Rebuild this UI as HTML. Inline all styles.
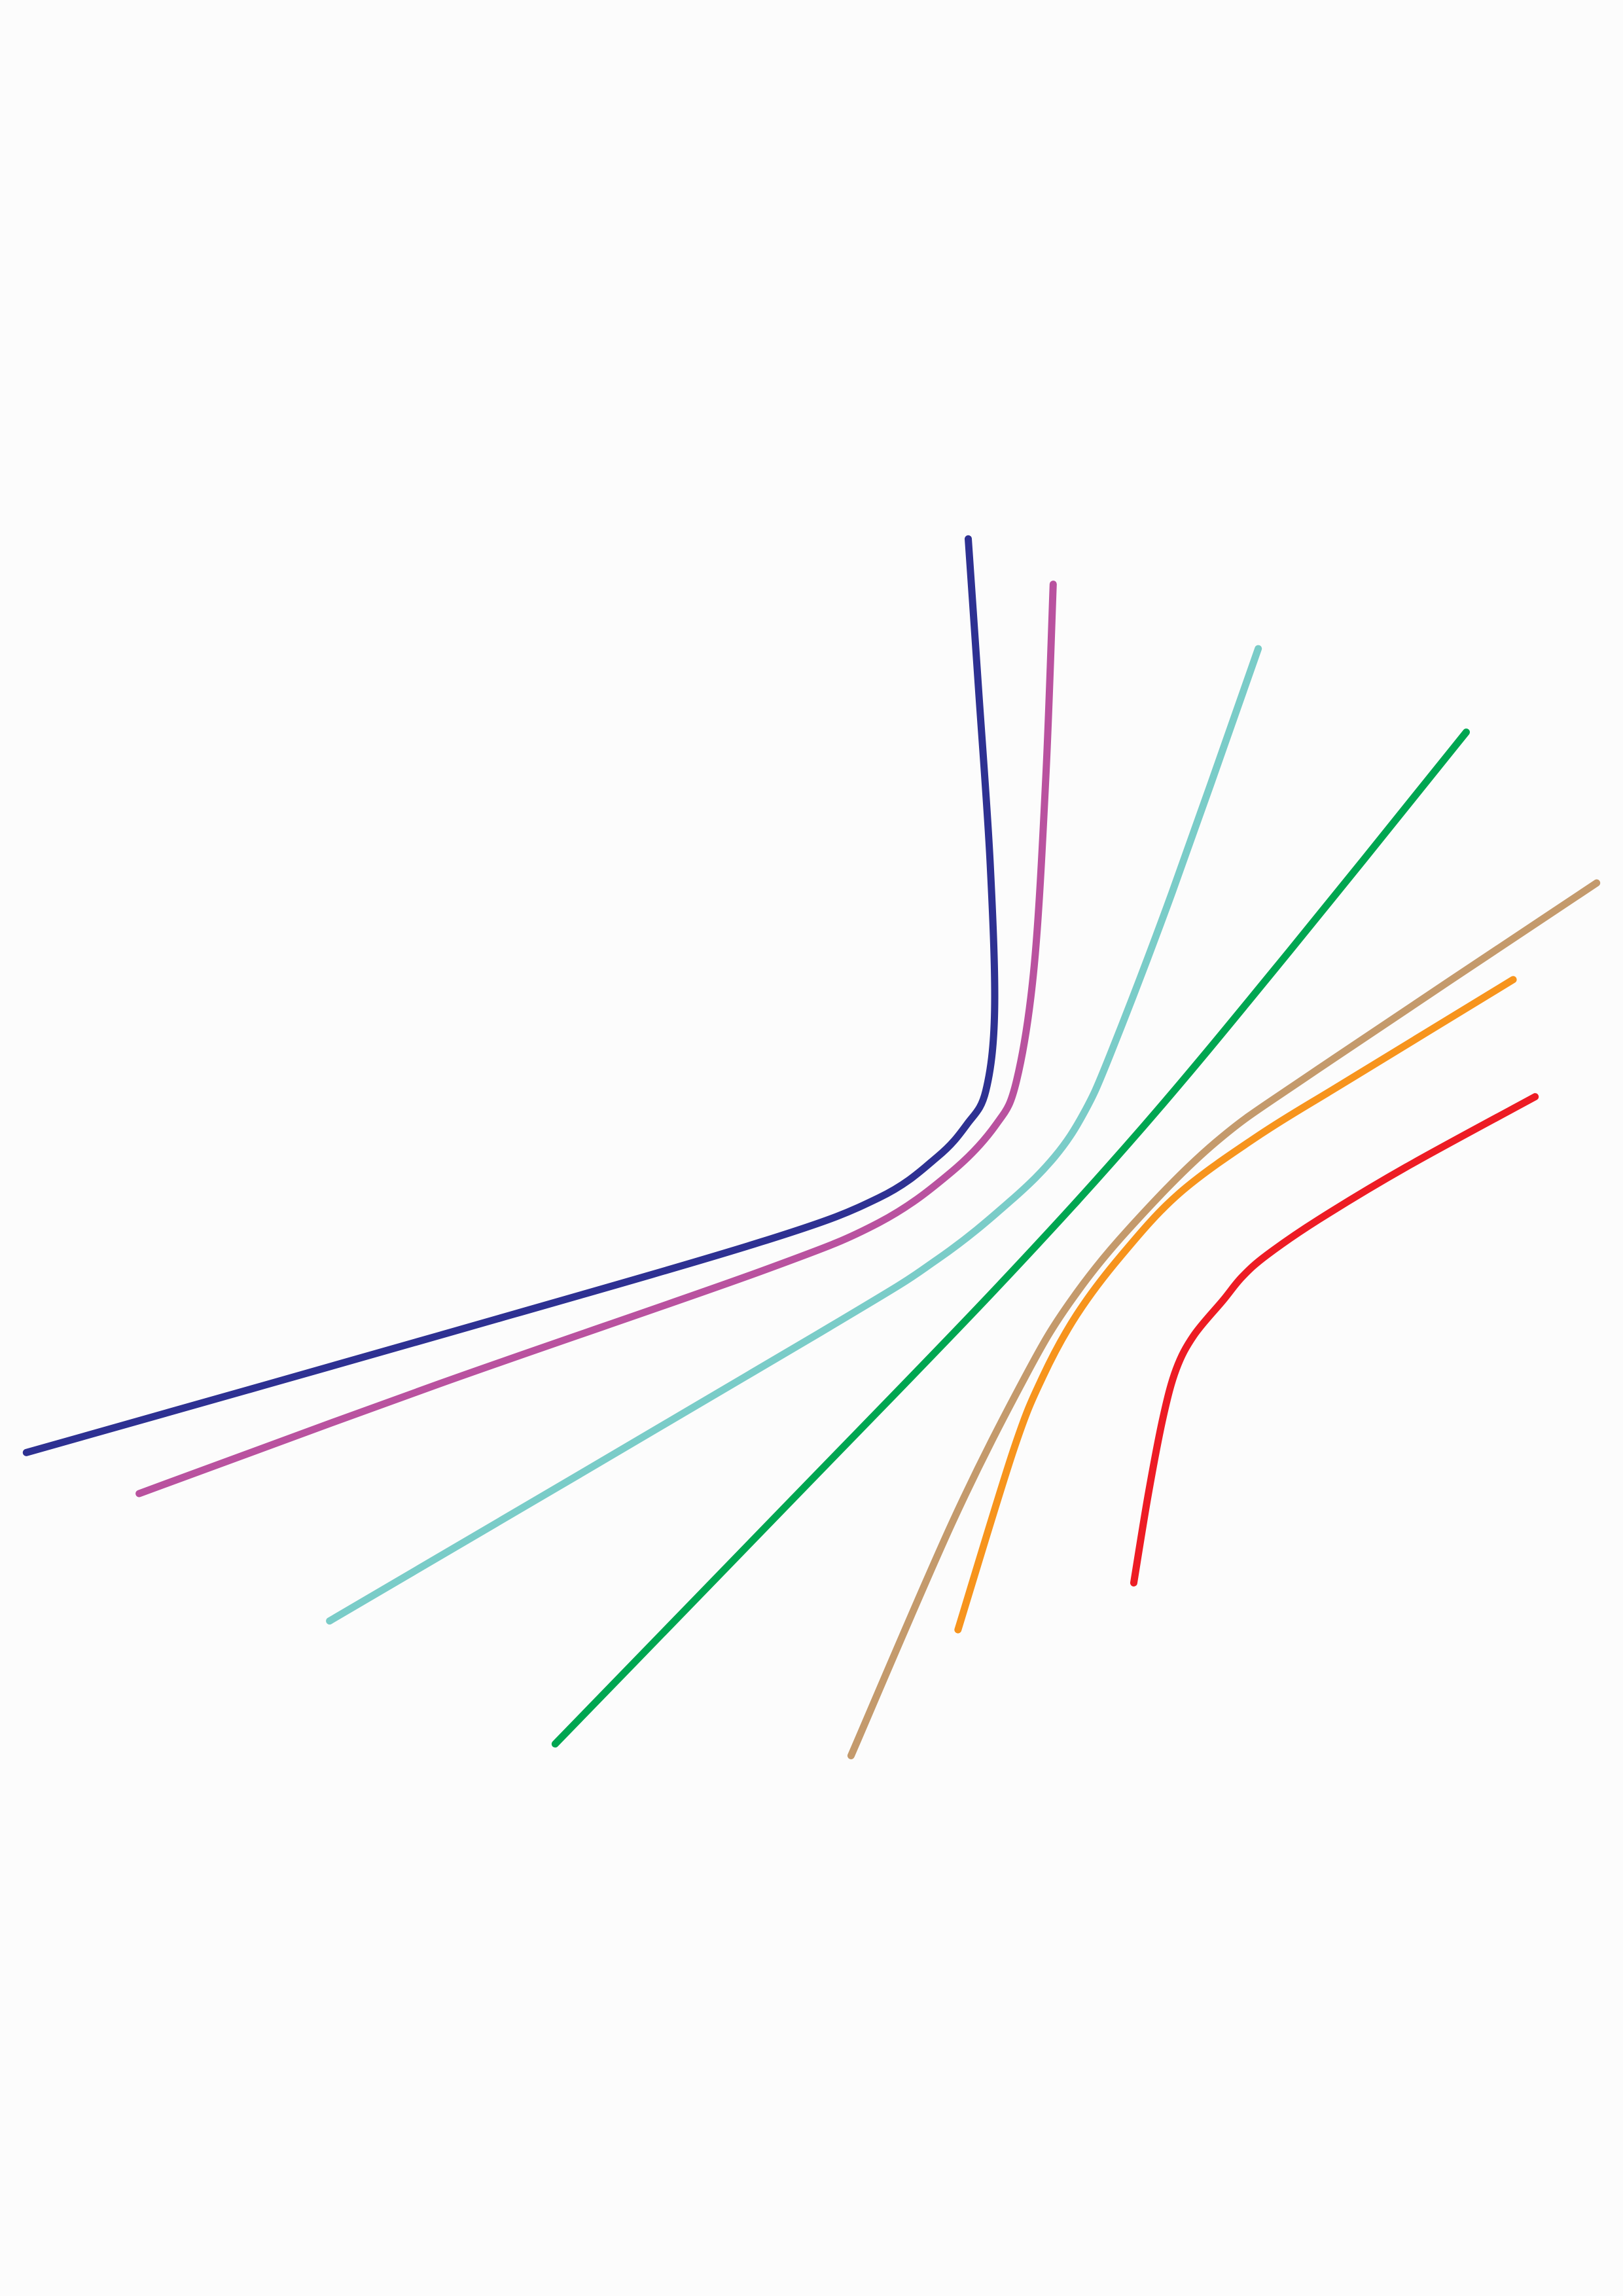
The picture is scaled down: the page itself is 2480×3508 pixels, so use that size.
<!DOCTYPE html>
<html><head><meta charset="utf-8">
<style>
html,body{margin:0;padding:0;background:#fcfcfc;}
#chart{display:block;width:2480px;height:3508px;background:#fcfcfc;}
</style></head>
<body>
<svg id="chart" width="2480" height="3508" viewBox="0 0 2480 3508" xmlns="http://www.w3.org/2000/svg"></svg>
<script>
// Series data (display-units, 1108x1568 reference space)
const navyPts = [[661,368],[668,470],[676,590],[679,690],[673,745],[660,768],[640,790],[600,818],[520,848],[300,912],[18,992]];
const pinkPts = [[719,399],[714,530],[706,660],[694,738],[680,768],[650,800],[600,835],[520,868],[300,945],[95,1020]];
const tealPts = [[859,443],[800,610],[758,720],[740,760],[720,790],[690,820],[640,860],[560,910],[225,1107]];
const greenPts = [[1001,500],[880,650],[780,770],[680,880],[540,1025],[379,1191]];
const tanPts = [[1090,603],[900,730],[830,780],[770,840],[730,890],[700,940],[650,1040],[581,1199]];
const orangePts = [[1033,669],[920,738],[860,775],[805,815],[765,858],[735,898],[712,940],[692,990],[654,1113]];
const redPts = [[1048,749],[960,797],[900,833],[865,857],[848,872],[835,888],[815,912],[803,935],[794,968],[784,1020],[774,1081]];
const seriesNames = ['navy-curve','pink-curve','teal-curve','green-curve','tan-curve','orange-curve','red-curve'];
const seriesColors = ['#2e3192','#b9529f','#7accc8','#00a651','#c49a6c','#f7941d','#ed1c24'];
const seriesData = [navyPts,pinkPts,tealPts,greenPts,tanPts,orangePts,redPts];

const sx = v => v * 2480 / 1108;
const sy = v => v * 3508 / 1568;

function pathFor(pts){
  const p = pts.map(([x,y]) => [sx(x), sy(y)]);
  let d = `M${p[0][0]},${p[0][1]}`;
  for (let i = 0; i < p.length - 1; i++){
    const p0 = p[i-1] || p[i], p1 = p[i], p2 = p[i+1], p3 = p[i+2] || p2;
    const c1x = p1[0] + (p2[0]-p0[0])/6, c1y = p1[1] + (p2[1]-p0[1])/6;
    const c2x = p2[0] - (p3[0]-p1[0])/6, c2y = p2[1] - (p3[1]-p1[1])/6;
    d += ` C${c1x},${c1y} ${c2x},${c2y} ${p2[0]},${p2[1]}`;
  }
  return d;
}

const svg = document.getElementById('chart');
seriesData.forEach((pts, i) => {
  const el = document.createElementNS('http://www.w3.org/2000/svg','path');
  el.setAttribute('d', pathFor(pts));
  el.setAttribute('fill','none');
  el.setAttribute('stroke', seriesColors[i]);
  el.setAttribute('stroke-width','11');
  el.setAttribute('stroke-linecap','round');
  el.setAttribute('stroke-linejoin','round');
  
  
  svg.appendChild(el);
});
</script>
</body></html>
